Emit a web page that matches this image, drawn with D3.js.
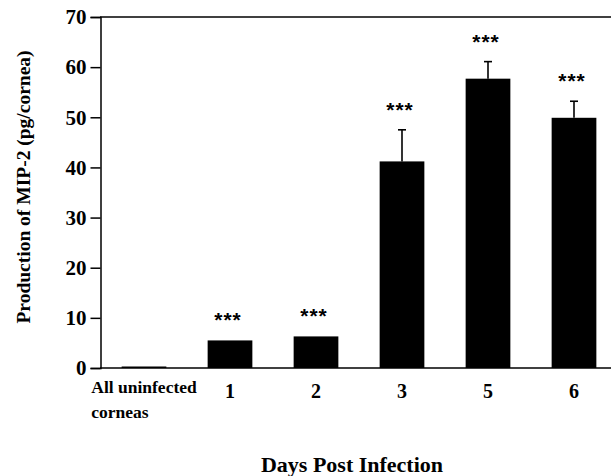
<!DOCTYPE html>
<html>
<head>
<meta charset="utf-8">
<script src="https://cdn.jsdelivr.net/npm/d3@7/dist/d3.min.js"></script>
<style>
  html, body { margin: 0; padding: 0; background: #fff; }
  svg { display: block; }
</style>
</head>
<body>
<script>
// ---- data ----
const categories = ["All uninfected corneas", "1", "2", "3", "5", "6"];
const values     = [0.3, 5.5, 6.3, 41.2, 57.7, 49.9];
const errors     = [0, 0, 0, 6.3, 3.4, 3.3];
const signif     = ["", "***", "***", "***", "***", "***"];
const yTicks     = [0, 10, 20, 30, 40, 50, 60, 70];
const yLabel     = "Production of MIP-2 (pg/cornea)";
const xLabel     = "Days Post Infection";

const W = 611, H = 476;
const svg = d3.select("body").append("svg").attr("width", W).attr("height", H);

const x = d3.scaleBand().domain(categories).range([101, 617]).paddingInner(0.48).paddingOuter(0.24);
const y = d3.scaleLinear().domain([0, 70]).range([368, 17]);

const serif = "'Liberation Serif', 'Times New Roman', serif";

// frame top line
svg.append("line").attr("x1", 100).attr("x2", W).attr("y1", y(70)).attr("y2", y(70))
  .attr("stroke", "#000").attr("stroke-width", 1.5);

// bottom axis
const xAxis = svg.append("g").attr("transform", `translate(0,${y(0)})`)
  .call(d3.axisBottom(x).tickSize(0).tickPadding(16).tickFormat((d, i) => i === 0 ? "" : d));
xAxis.select(".domain").attr("d", `M100,0H${W}`).attr("stroke-width", 1.5);
xAxis.selectAll("text").attr("font-family", serif).attr("font-weight", "bold")
  .attr("font-size", 20).attr("fill", "#000");

// first category label (two lines)
const firstLabel = svg.append("text").attr("font-family", serif).attr("font-weight", "bold")
  .attr("font-size", 17.5).attr("fill", "#000");
const parts = categories[0].split(" ");
const l1 = firstLabel.append("tspan").text(parts.slice(0, 2).join(" "));
const w1 = l1.node().getComputedTextLength();
const cx0 = x(categories[0]) + x.bandwidth() / 2;
l1.attr("x", cx0 - w1 / 2).attr("y", 393);
firstLabel.append("tspan").text(parts.slice(2).join(" ")).attr("x", cx0 - w1 / 2).attr("y", 418);

// left axis
const yAxis = svg.append("g").attr("transform", "translate(100.5,0)")
  .call(d3.axisLeft(y).tickValues(yTicks).tickSize(10).tickPadding(4));
yAxis.select(".domain").attr("stroke-width", 1.5);
yAxis.selectAll(".tick line").attr("stroke-width", 1.5);
yAxis.selectAll("text").attr("font-family", serif).attr("font-weight", "bold")
  .attr("font-size", 21).attr("fill", "#000");

// bars
svg.append("g").selectAll("rect").data(categories).join("rect")
  .attr("x", d => x(d)).attr("width", x.bandwidth())
  .attr("y", (d, i) => y(values[i])).attr("height", (d, i) => y(0) - y(values[i]))
  .attr("fill", "#000");

// error bars
const eb = svg.append("g").attr("stroke", "#000").attr("stroke-width", 1.6);
categories.forEach((d, i) => {
  if (!errors[i]) return;
  const cx = x(d) + x.bandwidth() / 2;
  eb.append("line").attr("x1", cx).attr("x2", cx).attr("y1", y(values[i])).attr("y2", y(values[i] + errors[i]));
  eb.append("line").attr("x1", cx - 4).attr("x2", cx + 4).attr("y1", y(values[i] + errors[i])).attr("y2", y(values[i] + errors[i]));
});

// significance stars
svg.append("g").selectAll("text").data(categories).join("text")
  .attr("x", d => x(d) + x.bandwidth() / 2 - 2)
  .attr("y", (d, i) => y(values[i] + errors[i]) - 13)
  .attr("text-anchor", "middle")
  .attr("font-family", "'Liberation Sans', Arial, sans-serif")
  .attr("font-weight", "bold")
  .attr("font-size", 21).attr("letter-spacing", 1)
  .attr("fill", "#000")
  .text((d, i) => signif[i]);

// y label
svg.append("text").attr("transform", "translate(30,187) rotate(-90)")
  .attr("text-anchor", "middle").attr("font-family", serif).attr("font-weight", "bold")
  .attr("font-size", 19.5).attr("fill", "#000").text(yLabel);

// x title
svg.append("text").attr("x", 352).attr("y", 472).attr("text-anchor", "middle")
  .attr("font-family", serif).attr("font-weight", "bold").attr("font-size", 22)
  .attr("fill", "#000").text(xLabel);
</script>
</body>
</html>
